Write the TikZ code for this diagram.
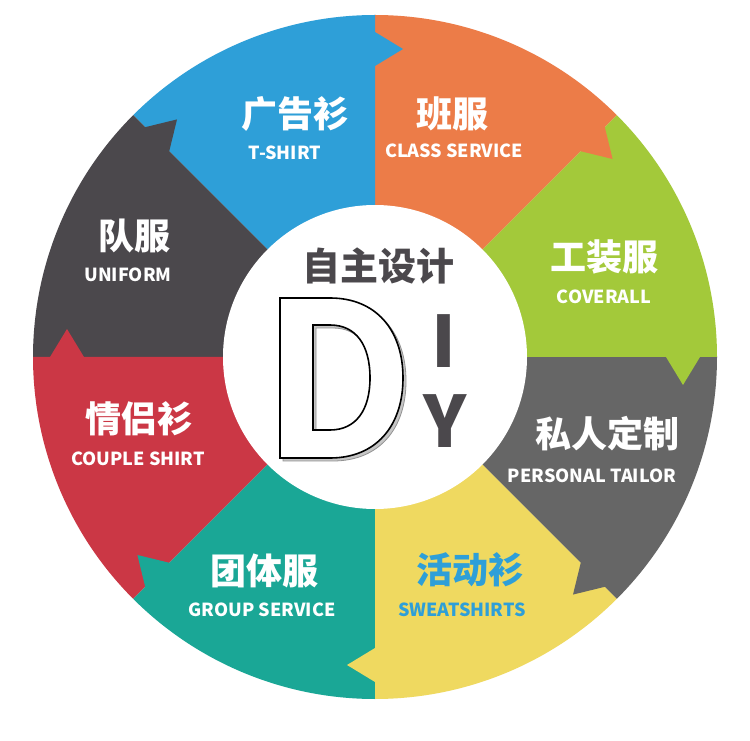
\documentclass[tikz,border=0pt]{standalone}
\usepackage{fontspec}
\setmainfont{Noto Sans CJK SC}
\usetikzlibrary{calc}
\definecolor{cblue}{HTML}{2E9FD8}
\definecolor{corange}{HTML}{EC7C48}
\definecolor{cgreen}{HTML}{A3C93A}
\definecolor{cgray}{HTML}{666666}
\definecolor{cyellow}{HTML}{EFD960}
\definecolor{cteal}{HTML}{1AA796}
\definecolor{cred}{HTML}{CB3745}
\definecolor{cdark}{HTML}{4B484C}
\tikzset{
  zh/.style={anchor=base, inner sep=0pt, text=white, font=\bfseries\fontsize{36}{36}\selectfont},
  en/.style={anchor=base, inner sep=0pt, text=white, font=\bfseries\fontsize{18}{18}\selectfont},
  big/.style={anchor=base, inner sep=0pt, text=cdark, font=\bfseries\fontsize{71}{71}\selectfont},
}
\begin{document}
\begin{tikzpicture}[x=1pt,y=1pt]
\fill[white] (0,0) rectangle (750,740);
\useasboundingbox (0,0) rectangle (750,740);
\coordinate (O) at (375,383);
% sectors
\foreach \a/\c in {45/corange,90/cblue,135/cdark,180/cred,225/cteal,270/cyellow,315/cgray,0/cgreen}{
  \fill[\c] (O) -- ($(O)+(\a:342pt)$) arc[start angle=\a, end angle=\a+45, radius=342pt] -- cycle;
}
% arrow heads
\foreach \a/\c in {45/corange,90/cblue,135/cdark,180/cred,225/cteal,270/cyellow,315/cgray,0/cgreen}{
  \fill[\c] ($(O)+(\a:325pt)+(\a+90:1pt)$) -- ($(O)+(\a:325pt)$) -- ($(O)+(\a:308pt)+(\a-90:28pt)$) -- ($(O)+(\a:291pt)$) -- ($(O)+(\a:291pt)+(\a+90:1pt)$) -- cycle;
}
% hub
\node[circle, fill=white, minimum size=304pt, inner sep=0pt] (hub) at (O) {};
% D letter
\begin{scope}[shift={(3,-3)}]
\filldraw[fill=gray!45, draw=gray!85, line width=0.8pt, even odd rule]
  (280,442) -- (330,442) .. controls (376,442) and (403,410) .. (403,362)
  .. controls (403,314) and (376,282) .. (330,282) -- (280,282) -- cycle
  (313,415) -- (330,415) .. controls (356,415) and (370,395) .. (370,362)
  .. controls (370,330) and (356,310) .. (330,310) -- (313,310) -- cycle;
\end{scope}
\filldraw[fill=white, draw=black, line width=1.6pt, even odd rule]
  (280,442) -- (330,442) .. controls (376,442) and (403,410) .. (403,362)
  .. controls (403,314) and (376,282) .. (330,282) -- (280,282) -- cycle
  (313,415) -- (330,415) .. controls (356,415) and (370,395) .. (370,362)
  .. controls (370,330) and (356,310) .. (330,310) -- (313,310) -- cycle;
\node[big] (I) at (444,372) {I};
\node[big] (Y) at (445,292) {Y};
\node[zh, text=cdark, font=\bfseries\fontsize{38}{38}\selectfont] (title) at (378,459) {自主设计};
% labels
\node[zh] (t1) at (295,612) {广告衫};
\node[en] (e1) at (285,580) {T-SHIRT};
\node[zh] (t2) at (452,612) {班服};
\node[en] (e2) at (454,582) {CLASS SERVICE};
\node[zh] (t3) at (604,469) {工装服};
\node[en] (e3) at (604,436) {COVERALL};
\node[zh] (t4) at (607,292) {私人定制};
\node[en] (e4) at (592,258) {PERSONAL TAILOR};
\node[zh, text=cblue] (t5) at (470,157) {活动衫};
\node[en, text=cblue] (e5) at (462,124) {SWEATSHIRTS};
\node[zh] (t6) at (264,156) {团体服};
\node[en] (e6) at (262,124) {GROUP SERVICE};
\node[zh] (t7) at (139,307) {情侣衫};
\node[en] (e7) at (138,274) {COUPLE SHIRT};
\node[zh] (t8) at (134,490) {队服};
\node[en] (e8) at (128,458) {UNIFORM};
\end{tikzpicture}
\end{document}
